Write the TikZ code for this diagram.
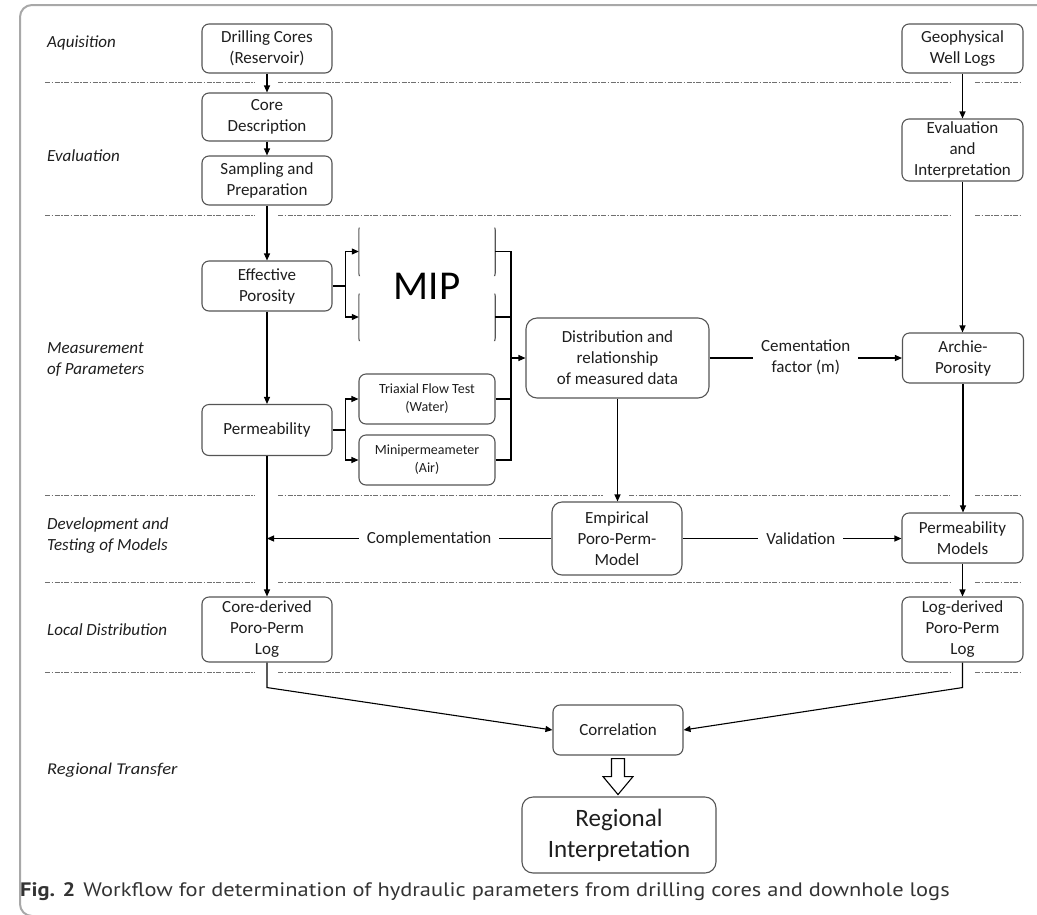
\documentclass[tikz,border=0pt]{standalone}
\usepackage{fontspec}
\setmainfont{Carlito}
\newfontfamily\capfont{PT Sans}
\usetikzlibrary{arrows.meta,calc}
\definecolor{boxline}{HTML}{555555}
\definecolor{txt}{HTML}{1E1E1E}
\definecolor{captxt}{HTML}{333333}
\definecolor{sepc}{HTML}{707070}
\definecolor{framec}{HTML}{A8A8A8}
\tikzset{
 box/.style={draw=boxline, line width=1.1pt, rounded corners=7pt, align=center, text=txt, inner sep=0pt, font=\fontsize{17pt}{21pt}\selectfont},
 smallbox/.style={box, font=\fontsize{14pt}{18pt}\selectfont},
 ghost/.style={draw=none, inner sep=0pt},
 mipedge/.style={draw=boxline, line width=1.1pt, rounded corners=7pt},
 arr/.style={-{Triangle[length=7pt,width=6pt]}, line width=1.1pt},
 ln/.style={line width=1.1pt},
 sepline/.style={draw=sepc, line width=0.8pt, dash pattern=on 5pt off 1.5pt on 1.5pt off 1.5pt},
 stage/.style={anchor=west, font=\fontsize{17pt}{21pt}\selectfont\itshape, text=txt, align=left, inner sep=0pt},
 lbl/.style={fill=white, font=\fontsize{17pt}{21pt}\selectfont, text=txt, inner xsep=8pt, inner ysep=2pt, align=center},
}
\begin{document}
\begin{tikzpicture}[x=1pt,y=-1pt]
\useasboundingbox (0,0) rectangle (1037,914);
\clip (0,0) rectangle (1037,914);
\draw[draw=framec, line width=2pt, rounded corners=12pt] (20,5) rectangle (1070,916);

% separators
\foreach \y in {82,215,582,672}{
  \draw[sepline] (45,\y) -- (255,\y);
  \draw[sepline] (278,\y) -- (950,\y);
  \draw[sepline] (975,\y) -- (1022,\y);
}
\draw[sepline] (45,495) -- (255,495);
\draw[sepline] (278,495) -- (603,495);
\draw[sepline] (629,495) -- (950,495);
\draw[sepline] (975,495) -- (1022,495);

% stage labels
\node[stage] (s1) at (47,43) {Aquisition};
\node[stage] (s2) at (47,156) {Evaluation};
\node[stage] (s3) at (47,360) {Measurement\\of Parameters};
\node[stage] (s4) at (47,536) {Development and\\Testing of Models};
\node[stage] (s5) at (47,630) {Local Distribution};
\node[stage, font=\fontsize{16.5pt}{20pt}\selectfont\itshape] (s6) at (47,770) {\scalebox{1.12}[1]{Regional Transfer}};

% left column
\node[box, minimum width=130pt, minimum height=49pt] (drill) at (267,48.5) {Drilling Cores\\(Reservoir)};
\node[box, minimum width=130pt, minimum height=48pt] (coredesc) at (267,117) {Core\\Description};
\node[box, minimum width=130pt, minimum height=49pt] (sampling) at (267,180.5) {Sampling and\\Preparation};
\node[box, minimum width=130pt, minimum height=50pt] (effpor) at (267,286) {Effective\\Porosity};
\node[box, minimum width=130pt, minimum height=51pt] (perm) at (267,430) {Permeability};
\node[box, minimum width=130pt, minimum height=65pt] (corelog) at (267,629.5) {Core-derived\\Poro-Perm\\Log};

% right column
\node[box, minimum width=121pt, minimum height=49pt] (geo) at (962.5,48.5) {Geophysical\\Well Logs};
\node[box, minimum width=121pt, minimum height=62pt] (evalint) at (962.5,150) {Evaluation\\and\\Interpretation};
\node[box, minimum width=121pt, minimum height=50pt] (archie) at (963,358) {Archie-\\Porosity};
\node[box, minimum width=121pt, minimum height=50pt] (permmod) at (962.5,538) {Permeability\\Models};
\node[box, minimum width=121pt, minimum height=65pt] (loglog) at (962.5,629.5) {Log-derived\\Poro-Perm\\Log};

% MIP boxes (only their sides show)
\node[ghost, minimum width=136pt, minimum height=57pt] (mip1) at (427,251.5) {};
\node[ghost, minimum width=136pt, minimum height=56pt] (mip2) at (427,317) {};
\begin{scope}
  \clip (353,227.5) rectangle (364,276) (353,293.5) rectangle (364,341)
        (490,227.5) rectangle (501,276) (490,293.5) rectangle (501,341);
  \draw[mipedge] (mip1.north west) rectangle (mip1.south east);
  \draw[mipedge] (mip2.north west) rectangle (mip2.south east);
\end{scope}
\node[font=\fontsize{41pt}{45pt}\selectfont, text=black, inner sep=0pt] (mip) at (427,286) {MIP};

\node[smallbox, minimum width=136pt, minimum height=50pt] (triax) at (427,399) {Triaxial Flow Test\\(Water)};
\node[smallbox, minimum width=136pt, minimum height=50pt] (mini) at (427,460) {Minipermeameter\\(Air)};

% middle
\node[box, minimum width=183pt, minimum height=80pt, rounded corners=11pt] (dist) at (617.5,358) {Distribution and\\relationship\\of measured data};
\node[box, minimum width=130pt, minimum height=73pt, rounded corners=10pt] (emp) at (617,538.5) {Empirical\\Poro-Perm-\\Model};
\node[box, minimum width=130pt, minimum height=50pt] (corr) at (618,730) {Correlation};
\node[box, minimum width=194pt, minimum height=76pt, rounded corners=11pt, font=\fontsize{25pt}{31pt}\selectfont] (regint) at (619,835) {Regional\\Interpretation};

% vertical arrows
\draw[arr] (drill) -- (coredesc);
\draw[arr] (coredesc) -- (sampling);
\draw[arr] (sampling) -- (effpor);
\draw[arr] (effpor) -- (perm);
\draw[arr] (perm) -- (corelog);
\draw[arr] (geo) -- (evalint);
\draw[arr] (evalint.south) -- (evalint.south |- archie.north);
\draw[arr] (archie.south) -- (archie.south |- permmod.north);
\draw[arr] (permmod) -- (loglog);
\draw[arr] (dist.south) -- (dist.south |- emp.north);

% branches
\draw[ln] (effpor.east) -- ++(13,0) coordinate (b1);
\draw[arr] (b1) |- (mip1.west);
\draw[arr] (b1) |- (mip2.west);
\draw[ln] (perm.east) -- ++(13,0) coordinate (b2);
\draw[arr] (b2) |- (triax.west);
\draw[arr] (b2) |- (mini.west);
\coordinate (col) at (511,358);
\draw[ln] (mip1.east) -| (col);
\draw[ln] (mip2.east) -| (col);
\draw[ln] (triax.east) -| (col);
\draw[ln] (mini.east) -| (col);
\draw[arr] (col) -- (dist.west);

% labelled arrows
\draw[arr] (dist.east) -- node[lbl, pos=0.5, yshift=1pt] {Cementation\\factor (m)} (archie.west);
\draw[arr] (emp.west) -- node[lbl, pos=0.43] {Complementation} (emp.west -| perm);
\draw[arr] (emp.east) -- node[lbl, pos=0.54] {Validation} (emp.east -| permmod.west);

% to correlation
\draw[arr] (corelog.south) -- ++(0,25) -- (corr.west);
\draw[arr] (loglog.south) -- ++(0,25) -- (corr.east);

% hollow arrow
\draw[line width=1.1pt, fill=white, line join=miter]
  ($(corr.south)+(-6.5,3)$) -- ($(corr.south)+(6.5,3)$) -- ($(corr.south)+(6.5,21)$) -- ($(corr.south)+(15,21)$)
  -- ($(corr.south)+(0,39)$) -- ($(corr.south)+(-15,21)$) -- ($(corr.south)+(-6.5,21)$) -- cycle;

% caption
\node[anchor=west, inner sep=0pt, text=captxt, font=\capfont\fontsize{19.5pt}{22pt}\selectfont] (cap) at (20,892) {\scalebox{1.15}[1]{\textbf{Fig. 2}\hspace{7pt}Workflow for determination of hydraulic parameters from drilling cores and downhole logs}};
\end{tikzpicture}
\end{document}
